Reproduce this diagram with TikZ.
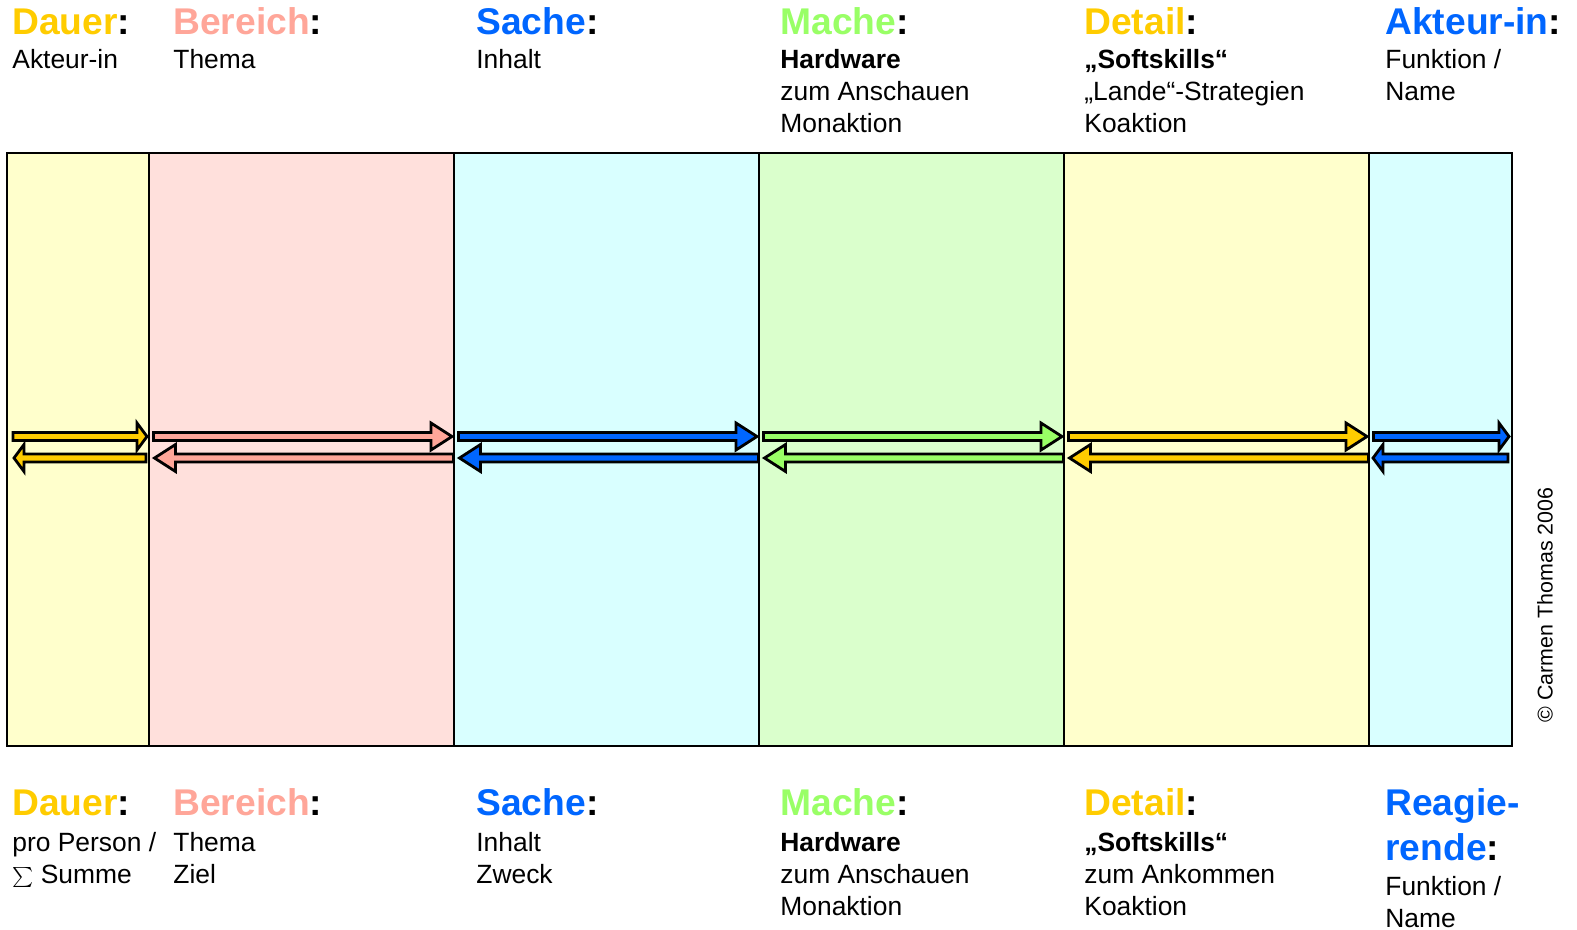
\documentclass[tikz,border=0pt]{standalone}
\usepackage{fontspec}
\setmainfont{Liberation Sans}
\usetikzlibrary{positioning}

\definecolor{gold}{RGB}{255,204,0}
\definecolor{salmon}{RGB}{255,166,153}
\definecolor{azure}{RGB}{0,102,255}
\definecolor{lightlime}{RGB}{153,255,102}
\definecolor{paleyellow}{RGB}{255,255,204}
\definecolor{palepink}{RGB}{255,224,220}
\definecolor{palecyan}{RGB}{217,255,255}
\definecolor{palegreen}{RGB}{218,255,204}

\tikzset{
  colbox/.style={draw=black, line width=1pt},
  barrow/.style={draw=black, line width=1.4pt, line join=miter},
  head/.style={font=\fontsize{18.6}{22.5}\selectfont\bfseries, anchor=base west, inner sep=0pt, align=left},
  body/.style={font=\fontsize{13.2}{16}\selectfont, anchor=base west, inner sep=0pt, align=left},
}

% right-pointing block arrow: from, tip, head length, colour
\newcommand{\arrR}[4]{%
  \draw[barrow, fill=#4] (#1,432.5) -- (#2-#3,432.5) -- (#2-#3,423) -- (#2,436.5)
    -- (#2-#3,450) -- (#2-#3,440.5) -- (#1,440.5) -- cycle;}
% left-pointing block arrow: tip, tail, head length, colour
\newcommand{\arrL}[4]{%
  \draw[barrow, fill=#4] (#2,454) -- (#1+#3,454) -- (#1+#3,444.5) -- (#1,458)
    -- (#1+#3,471.5) -- (#1+#3,462) -- (#2,462) -- cycle;}

\begin{document}
\begin{tikzpicture}[x=0.5pt, y=-0.5pt]
\useasboundingbox (0,0) rectangle (1577,930);

% columns
\fill[paleyellow] (7,153) rectangle (149,746);
\fill[palepink] (149,153) rectangle (454,746);
\fill[palecyan] (454,153) rectangle (759,746);
\fill[palegreen] (759,153) rectangle (1064,746);
\fill[paleyellow] (1064,153) rectangle (1369,746);
\fill[palecyan] (1369,153) rectangle (1512,746);

% arrows
\arrR{13}{147}{10}{gold}
\arrL{14}{146}{10}{gold}
\arrR{153.5}{452}{21}{salmon}
\arrL{154.5}{453.5}{21}{salmon}
\arrR{458.5}{757}{21}{azure}
\arrL{459.5}{758.5}{21}{azure}
\arrR{763.5}{1062}{21}{lightlime}
\arrL{764.5}{1063.5}{21}{lightlime}
\arrR{1068.5}{1367}{21}{gold}
\arrL{1069.5}{1368.5}{21}{gold}
\arrR{1373.5}{1509}{10}{azure}
\arrL{1373}{1508}{10}{azure}

\draw[colbox] (7,153) rectangle (1512,746);
\draw[colbox] (149,153) -- (149,746);
\draw[colbox] (454,153) -- (454,746);
\draw[colbox] (759,153) -- (759,746);
\draw[colbox] (1064,153) -- (1064,746);
\draw[colbox] (1369,153) -- (1369,746);

% top labels (placed at the baseline of the last line)
\node[head] (h1) at (12,35) {\textcolor{gold}{Dauer}:};
\node[head] (h2) at (173,35) {\textcolor{salmon}{Bereich}:};
\node[head] (h3) at (476,35) {\textcolor{azure}{Sache}:};
\node[head] (h4) at (780,35) {\textcolor{lightlime}{Mache}:};
\node[head] (h5) at (1084,35) {\textcolor{gold}{Detail}:};
\node[head] (h6) at (1385,35) {\textcolor{azure}{Akteur-in}:};

\node[body] (t1) at (12,69) {Akteur-in};
\node[body] (t2) at (173,69) {Thema};
\node[body] (t3) at (476,69) {Inhalt};
\node[body] (t4) at (780,133) {\textbf{Hardware}\\zum Anschauen\\Monaktion};
\node[body] (t5) at (1084,133) {\textbf{„Softskills“}\\„Lande“-Strategien\\Koaktion};
\node[body] (t6) at (1385,101) {Funktion /\\Name};

% bottom labels
\node[head] (H1) at (12,815) {\textcolor{gold}{Dauer}:};
\node[head] (H2) at (173,815) {\textcolor{salmon}{Bereich}:};
\node[head] (H3) at (476,815) {\textcolor{azure}{Sache}:};
\node[head] (H4) at (780,815) {\textcolor{lightlime}{Mache}:};
\node[head] (H5) at (1084,815) {\textcolor{gold}{Detail}:};
\node[head] (H6) at (1385,860) {\textcolor{azure}{Reagie-}\\\textcolor{azure}{rende}:};

\node[body] (b1) at (12,883) {pro Person /\\{\fontsize{11}{12}\selectfont$\sum$} Summe};
\node[body] (b2) at (173,883) {Thema\\Ziel};
\node[body] (b3) at (476,883) {Inhalt\\Zweck};
\node[body] (b4) at (780,915) {\textbf{Hardware}\\zum Anschauen\\Monaktion};
\node[body] (b5) at (1084,915) {\textbf{„Softskills“}\\zum Ankommen\\Koaktion};
\node[body] (b6) at (1385,927) {Funktion /\\Name};

\node[rotate=90, inner sep=0pt, font=\fontsize{10.7}{12}\selectfont] (copy) at (1545,605) {© Carmen Thomas 2006};
\end{tikzpicture}
\end{document}
